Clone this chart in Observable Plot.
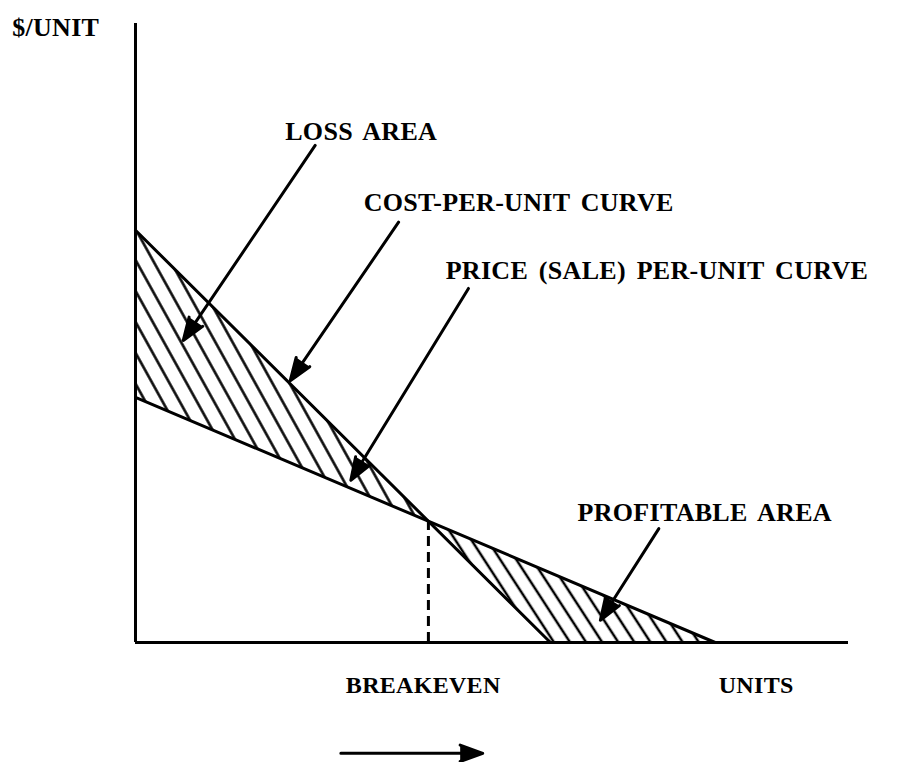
<!DOCTYPE html>
<html><head><meta charset="utf-8">
<script src="https://cdn.jsdelivr.net/npm/d3@7"></script>
<script src="https://cdn.jsdelivr.net/npm/@observablehq/plot@0.6"></script>
<style>
body{margin:0;background:#fff;}
#chart text{letter-spacing:0.3px;word-spacing:4px;}
</style></head><body><div id="chart"></div>
<script>
// Cost-per-unit and price-per-unit curves (straight)
const costX = [0, 58.2];
const costY = [66.6, 0];
const priceX = [0, 81.3];
const priceY = [39.6, 0];

// Text labels (data coordinates)
const labelText = ["$/UNIT", "LOSS AREA", "COST-PER-UNIT CURVE", "PRICE (SALE) PER-UNIT CURVE", "PROFITABLE AREA", "BREAKEVEN", "UNITS"];
const labelX = [-17.3, 21.0, 32.0, 43.5, 62.0, 29.5, 81.8];
const labelY = [99.4, 82.6, 71.1, 60.1, 21.0, -6.9, -6.9];

// Pointer arrows (from label to target)
const pointerX1 = [25.2, 36.9, 46.7, 73.4, 28.8];
const pointerY1 = [80.3, 67.9, 57.2, 18.4, -17.9];
const pointerX2 = [6.7, 21.7, 30.2, 65.2, 48.7];
const pointerY2 = [48.8, 42.3, 26.2, 3.6, -17.9];

const interp = (xs, ys) => x => {
  if (x <= xs[0]) return ys[0];
  if (x >= xs[xs.length - 1]) return ys[ys.length - 1];
  for (let i = 1; i < xs.length; i++) if (x <= xs[i]) {
    const t = (x - xs[i-1]) / (xs[i] - xs[i-1]);
    return ys[i-1] + t * (ys[i] - ys[i-1]);
  }
};
const costAt = interp(costX, costY);
const priceAt = interp(priceX, priceY);

// breakeven = intersection of the two lines
const cs = (costY[1] - costY[0]) / (costX[1] - costX[0]);
const ps = (priceY[1] - priceY[0]) / (priceX[1] - priceX[0]);
const beX = (priceY[0] - costY[0]) / (cs - ps);
const be = {x: beX, y: priceAt(beX)};

const costLine = costX.map((x, i) => ({x, y: costY[i]}));
const priceLine = priceX.map((x, i) => ({x, y: priceY[i]}));
const lossArea = [0, beX].map(x => ({x, lo: priceAt(x), hi: costAt(x)}));
const profitArea = [beX, costX[1], priceX[1]].map(x => ({x, lo: Math.max(costAt(x), 0), hi: priceAt(x)}));
const labels = labelText.map((t, i) => ({t, x: labelX[i], y: labelY[i]}));
const pointers = pointerX1.map((x1, i) => ({x1, y1: pointerY1[i], x2: pointerX2[i], y2: pointerY2[i]}));

const font = "'Liberation Serif', 'DejaVu Serif', serif";

const chart = Plot.plot({
  width: 923,
  height: 762,
  marginLeft: 135,
  marginRight: 75,
  marginTop: 23,
  marginBottom: 120,
  x: {domain: [0, 100], axis: null},
  y: {domain: [0, 100], axis: null},
  style: {fontFamily: font, background: "#fff", color: "#000"},
  marks: [
    Plot.areaY(lossArea, {x: "x", y1: "lo", y2: "hi", fill: "url(#hatchLoss)"}),
    Plot.areaY(profitArea, {x: "x", y1: "lo", y2: "hi", fill: "url(#hatchProfit)"}),
    Plot.ruleX([0], {y1: 0, y2: 100, stroke: "#000", strokeWidth: 3}),
    Plot.ruleY([0], {x1: 0, x2: 100, stroke: "#000", strokeWidth: 3}),
    Plot.line(costLine, {x: "x", y: "y", stroke: "#000", strokeWidth: 3}),
    Plot.line(priceLine, {x: "x", y: "y", stroke: "#000", strokeWidth: 3}),
    Plot.ruleX([be], {x: "x", y1: 0, y2: "y", stroke: "#000", strokeWidth: 3, strokeDasharray: "10,6"}),
    Plot.arrow(pointers, {x1: "x1", y1: "y1", x2: "x2", y2: "y2", stroke: "#000", fill: "#000", strokeWidth: 3, headLength: 12, headAngle: 40}),
    Plot.text(labels.filter(d => d.y >= 0), {x: "x", y: "y", text: "t", textAnchor: "start", fontSize: 26, fontWeight: "bold", fill: "#000"}),
    Plot.text(labels.filter(d => d.y < 0), {x: "x", y: "y", text: "t", textAnchor: "start", fontSize: 24, fontWeight: "bold", fill: "#000"})
  ]
});

d3.select(chart).insert("defs", ":first-child").html(`
  <pattern id="hatchLoss" patternUnits="userSpaceOnUse" width="15" height="15" patternTransform="rotate(-29)">
    <line x1="7.5" y1="-2" x2="7.5" y2="17" stroke="#000" stroke-width="2.5"/>
  </pattern>
  <pattern id="hatchProfit" patternUnits="userSpaceOnUse" width="13.5" height="13.5" patternTransform="rotate(-33)">
    <line x1="6.75" y1="-2" x2="6.75" y2="15.5" stroke="#000" stroke-width="2.5"/>
  </pattern>`);

document.getElementById("chart").appendChild(chart);
</script></body></html>
